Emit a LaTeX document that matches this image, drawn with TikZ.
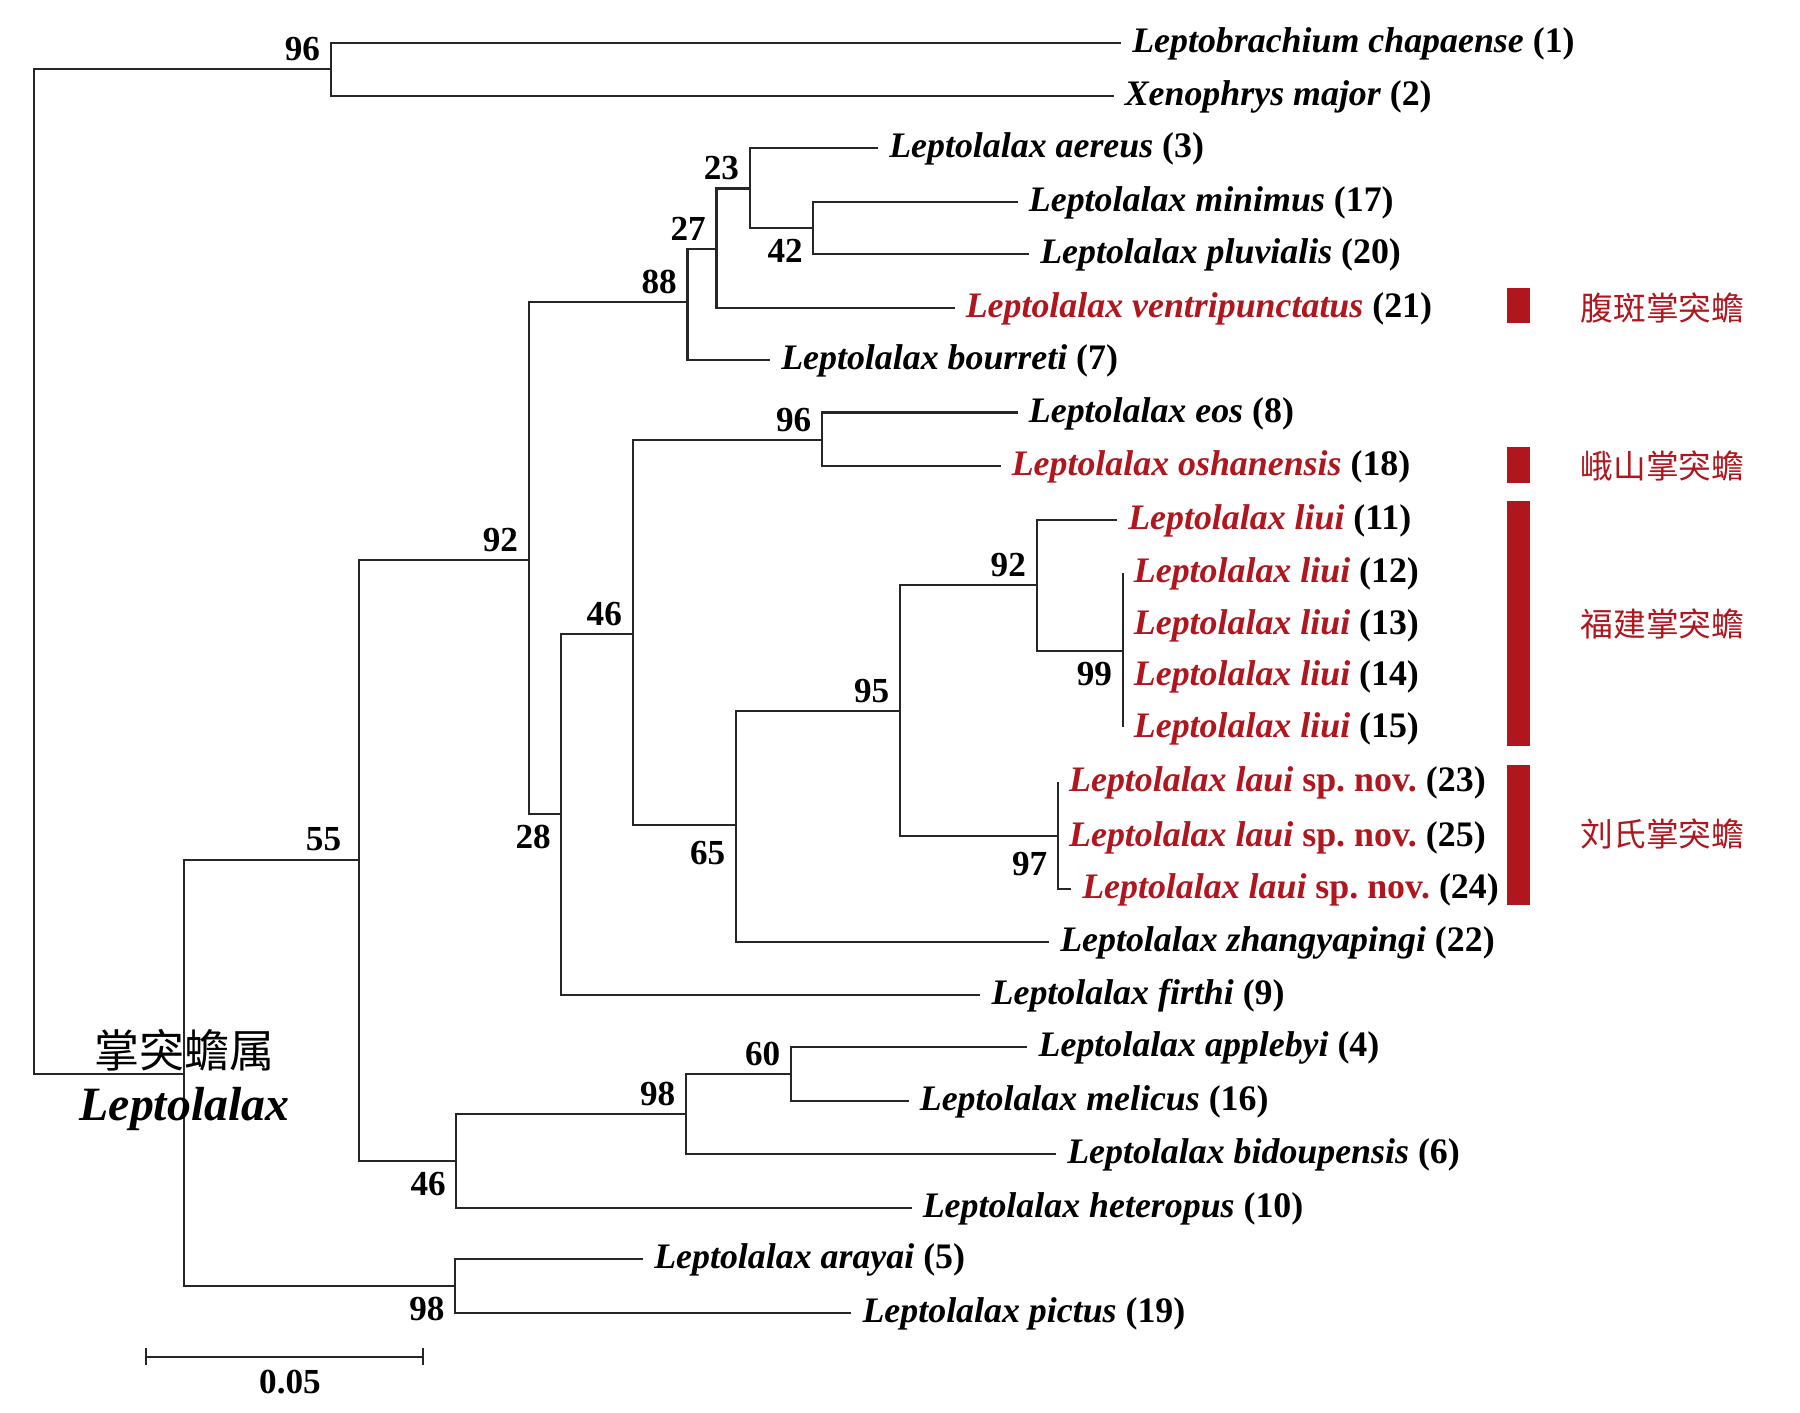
\documentclass[tikz,border=0pt]{standalone}
\usepackage{fontspec}
\setmainfont{Liberation Serif}
\newfontfamily\cjkfont{Noto Sans CJK SC}
\usepackage{tikz}
\usetikzlibrary{positioning}
\usetikzlibrary{arrows.meta}
\usepackage{xcolor}
\definecolor{treered}{RGB}{176,22,30}
\pgfkeys{tikz/branch/.style={draw=black!85,line width=0.6pt}}
\pgfkeys{tikz/leaf/.style={anchor=west,inner xsep=3pt,inner ysep=0pt,text height=1.7ex,text depth=0.5ex,font=\fontsize{10.2}{12}\selectfont\bfseries}}
\pgfkeys{tikz/bsup/.style={anchor=east,inner sep=0pt,xshift=-0.1cm,yshift=0.2cm,font=\fontsize{10}{12}\selectfont\bfseries}}
\pgfkeys{tikz/bsdown/.style={anchor=east,inner sep=0pt,xshift=-0.1cm,yshift=-0.23cm,font=\fontsize{10}{12}\selectfont\bfseries}}
\pgfkeys{tikz/cladebar/.style={fill=treered,draw=none}}
\pgfkeys{tikz/cladename/.style={anchor=west,inner sep=0pt,text=treered,font=\cjkfont\fontsize{9.3}{11}\selectfont}}
\newcommand*\taxon[3][black]{\textcolor{#1}{\itshape #2}~(#3)}

\begin{document}
\begin{tikzpicture}[x=0.01cm,y=-0.01cm]

	\useasboundingbox (0,0) rectangle (1800,1413);

	% inner nodes
	\coordinate (n0) at (34.4,571);
	\coordinate (n96o) at (330.7,69.3);
	\coordinate (nL) at (184.3,1074);
	\coordinate (n55) at (358.8,859.6);
	\coordinate (n92) at (528.7,559.6);
	\coordinate (n88) at (687.5,302);
	\coordinate (n27) at (716.5,249);
	\coordinate (n23) at (749.7,188.5);
	\coordinate (n42) at (813.4,228);
	\coordinate (n28) at (561.4,814.3);
	\coordinate (n46) at (632.6,634);
	\coordinate (n96) at (822,440);
	\coordinate (n65) at (736,825);
	\coordinate (n95) at (900,710.7);
	\coordinate (n92b) at (1036.6,585);
	\coordinate (n99) at (1122.7,651);
	\coordinate (n97) at (1057.9,836.4);
	\coordinate (n46b) at (456.4,1161);
	\coordinate (n98a) at (686,1114);
	\coordinate (n60) at (791,1074);
	\coordinate (n98b) at (455.2,1286);

	% taxa
	\node[leaf] (l1) at (1121,43.3) {\taxon{Leptobrachium chapaense}{1}};
	\node[leaf] (l2) at (1113.5,95.7) {\taxon{Xenophrys major}{2}};
	\node[leaf] (l3) at (878,148.3) {\taxon{Leptolalax aereus}{3}};
	\node[leaf] (l17) at (1017.7,201.7) {\taxon{Leptolalax minimus}{17}};
	\node[leaf] (l20) at (1029,254.3) {\taxon{Leptolalax pluvialis}{20}};
	\node[leaf] (l21) at (954.5,307.7) {\taxon[treered]{Leptolalax ventripunctatus}{21}};
	\node[leaf] (l7) at (770,360) {\taxon{Leptolalax bourreti}{7}};
	\node[leaf] (l8) at (1017.7,412.5) {\taxon{Leptolalax eos}{8}};
	\node[leaf] (l18) at (1000.5,466) {\taxon[treered]{Leptolalax oshanensis}{18}};
	\node[leaf] (l11) at (1117,519.6) {\taxon[treered]{Leptolalax liui}{11}};
	\node[leaf] (l12) at (1122.7,573) {\taxon[treered]{Leptolalax liui}{12}};
	\node[leaf] (l13) at (1122.7,624.5) {\taxon[treered]{Leptolalax liui}{13}};
	\node[leaf] (l14) at (1122.7,676) {\taxon[treered]{Leptolalax liui}{14}};
	\node[leaf] (l15) at (1122.7,727.5) {\taxon[treered]{Leptolalax liui}{15}};
	\node[leaf] (l23) at (1057.9,782) {\taxon[treered]{Leptolalax laui \upshape sp.\ nov.}{23}};
	\node[leaf] (l25) at (1057.9,836.4) {\taxon[treered]{Leptolalax laui \upshape sp.\ nov.}{25}};
	\node[leaf] (l24) at (1071,888.6) {\taxon[treered]{Leptolalax laui \upshape sp.\ nov.}{24}};
	\node[leaf] (l22) at (1049,941.8) {\taxon{Leptolalax zhangyapingi}{22}};
	\node[leaf] (l9) at (980.4,995) {\taxon{Leptolalax firthi}{9}};
	\node[leaf] (l4) at (1027.4,1047.3) {\taxon{Leptolalax applebyi}{4}};
	\node[leaf] (l16) at (908.6,1101) {\taxon{Leptolalax melicus}{16}};
	\node[leaf] (l6) at (1056,1154.3) {\taxon{Leptolalax bidoupensis}{6}};
	\node[leaf] (l10) at (911.5,1207.7) {\taxon{Leptolalax heteropus}{10}};
	\node[leaf] (l5) at (643,1259.3) {\taxon{Leptolalax arayai}{5}};
	\node[leaf] (l19) at (851.3,1313.3) {\taxon{Leptolalax pictus}{19}};

	% branches
	\draw[branch] (n0) |- (n96o);
	\draw[branch] (n0) |- (nL);
	\draw[branch] (n96o) |- (l1.west);
	\draw[branch] (n96o) |- (l2.west);
	\draw[branch] (nL) |- (n55);
	\draw[branch] (nL) |- (n98b);
	\draw[branch] (n55) |- (n92);
	\draw[branch] (n55) |- (n46b);
	\draw[branch] (n92) |- (n88);
	\draw[branch] (n92) |- (n28);
	\draw[branch] (n88) |- (n27);
	\draw[branch] (n88) |- (l7.west);
	\draw[branch] (n27) |- (n23);
	\draw[branch] (n27) |- (l21.west);
	\draw[branch] (n23) |- (l3.west);
	\draw[branch] (n23) |- (n42);
	\draw[branch] (n42) |- (l17.west);
	\draw[branch] (n42) |- (l20.west);
	\draw[branch] (n28) |- (n46);
	\draw[branch] (n28) |- (l9.west);
	\draw[branch] (n46) |- (n96);
	\draw[branch] (n46) |- (n65);
	\draw[branch] (n96) |- (l8.west);
	\draw[branch] (n96) |- (l18.west);
	\draw[branch] (n65) |- (n95);
	\draw[branch] (n65) |- (l22.west);
	\draw[branch] (n95) |- (n92b);
	\draw[branch] (n95) |- (n97);
	\draw[branch] (n92b) |- (l11.west);
	\draw[branch] (n92b) |- (n99);
	\draw[branch] (n99) |- (l12.west);
	\draw[branch] (n99) |- (l15.west);
	\draw[branch] (n97) |- (l23.west);
	\draw[branch] (n97) |- (l25.west);
	\draw[branch] (n97) |- (l24.west);
	\draw[branch] (n46b) |- (n98a);
	\draw[branch] (n46b) |- (l10.west);
	\draw[branch] (n98a) |- (n60);
	\draw[branch] (n98a) |- (l6.west);
	\draw[branch] (n60) |- (l4.west);
	\draw[branch] (n60) |- (l16.west);
	\draw[branch] (n98b) |- (l5.west);
	\draw[branch] (n98b) |- (l19.west);

	% bootstrap values
	\node[bsup] (b96o) at (n96o) {96};
	\node[bsup] (b23) at (n23) {23};
	\node[bsup] (b27) at (n27) {27};
	\node[bsdown] (b42) at (n42) {42};
	\node[bsup] (b88) at (n88) {88};
	\node[bsup] (b92) at (n92) {92};
	\node[bsup] (b96) at (n96) {96};
	\node[bsup] (b46) at (n46) {46};
	\node[bsdown] (b28) at (n28) {28};
	\node[bsdown,yshift=-0.05cm] (b65) at (n65) {65};
	\node[bsup] (b95) at (n95) {95};
	\node[bsup] (b92b) at (n92b) {92};
	\node[bsdown] (b99) at (n99) {99};
	\node[bsdown,yshift=-0.05cm] (b97) at (n97) {97};
	\node[bsup,xshift=-0.07cm] (b55) at (n55) {55};
	\node[bsup] (b60) at (n60) {60};
	\node[bsup] (b98a) at (n98a) {98};
	\node[bsdown] (b46b) at (n46b) {46};
	\node[bsdown] (b98b) at (n98b) {98};

	% clades
	\fill[cladebar] (1507,288) rectangle (1530,323);
	\fill[cladebar] (1507,447) rectangle (1530,483);
	\fill[cladebar] (1507,501) rectangle (1530,746.4);
	\fill[cladebar] (1507,765) rectangle (1530,905.4);
	\node[cladename] (c21) at (1580,308) {腹斑掌突蟾};
	\node[cladename] (c18) at (1580,466) {峨山掌突蟾};
	\node[cladename] (cliui) at (1580,624.3) {福建掌突蟾};
	\node[cladename] (claui) at (1580,834) {刘氏掌突蟾};

	% genus
	\node[inner sep=0pt,font=\cjkfont\fontsize{12.8}{14}\selectfont] (gcn) at (184.5,1050) {掌突蟾属};
	\node[inner sep=0pt,below=0.15cm of gcn,font=\fontsize{13.6}{15}\selectfont\bfseries\itshape] (gla) {Leptolalax};

	% scale bar
	\coordinate (sbl) at (144.7,1356.7);
	\coordinate (sbr) at (423.7,1356.7);
	\draw[branch,{Bar[width=0.17cm]}-{Bar[width=0.17cm]}] (sbl) -- (sbr);
	\node[font=\fontsize{10}{12}\selectfont\bfseries] (sbt) at (290,1382) {0.05};

\end{tikzpicture}
\end{document}
